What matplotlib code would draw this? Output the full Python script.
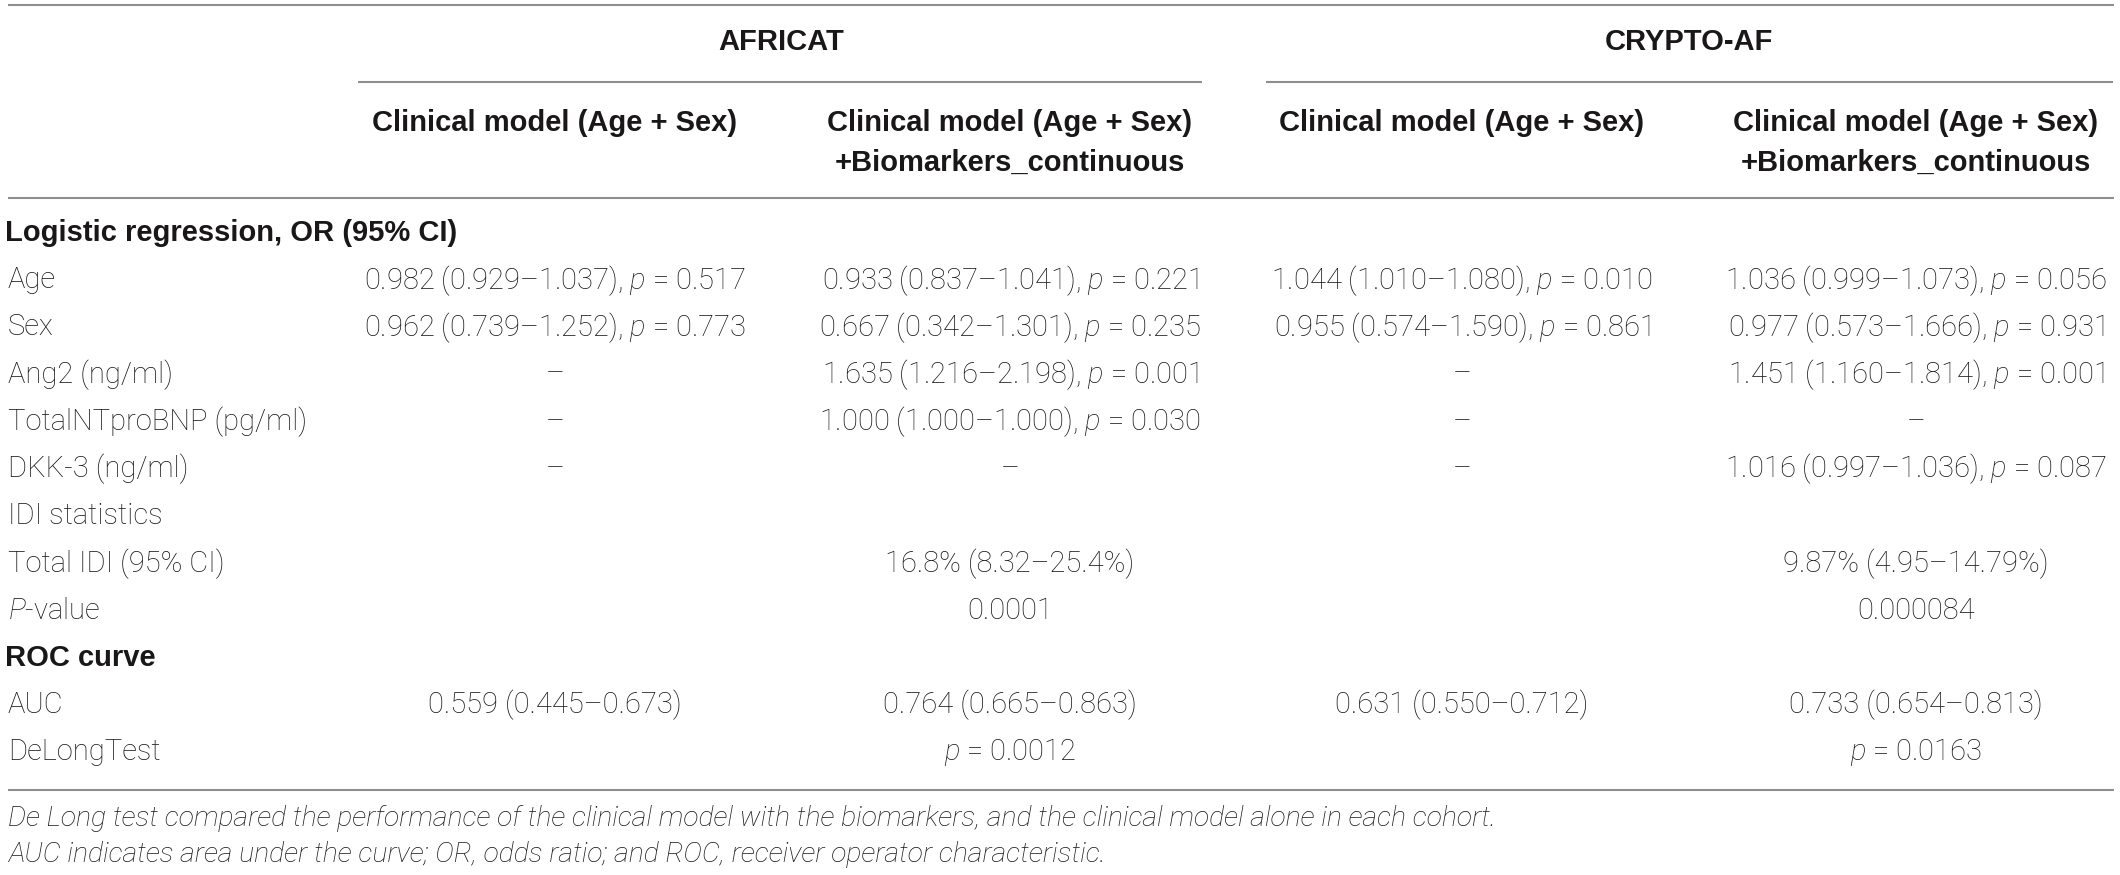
import matplotlib
matplotlib.use("Agg")
import matplotlib.pyplot as plt

plt.rcParams['font.family'] = ['Roboto', 'DejaVu Sans']
plt.rcParams['font.weight'] = 'light'
plt.rcParams['mathtext.fontset'] = 'custom'
plt.rcParams['mathtext.rm'] = 'Roboto:light'
plt.rcParams['mathtext.it'] = 'Roboto:italic:light'
plt.rcParams['mathtext.bf'] = 'Liberation Sans:bold'

# table content
cohorts = ["AFRICAT", "CRYPTO-AF"]
col_headers = ["Clinical model (Age + Sex)",
               "Clinical model (Age + Sex)\n+Biomarkers_continuous",
               "Clinical model (Age + Sex)",
               "Clinical model (Age + Sex)\n+Biomarkers_continuous"]

row_labels = ["Logistic regression, OR (95% CI)", "Age", "Sex", "Ang2 (ng/ml)",
              "TotalNTproBNP (pg/ml)", "DKK-3 (ng/ml)", "IDI statistics",
              "Total IDI (95% CI)", "$P$-value", "ROC curve", "AUC", "DeLongTest"]
bold_rows = ["Logistic regression, OR (95% CI)", "ROC curve"]

col1 = ["", "0.982 (0.929–1.037), $p$ = 0.517", "0.962 (0.739–1.252), $p$ = 0.773",
        "–", "–", "–", "", "", "", "", "0.559 (0.445–0.673)", ""]
col2 = ["", "0.933 (0.837–1.041), $p$ = 0.221", "0.667 (0.342–1.301), $p$ = 0.235",
        "1.635 (1.216–2.198), $p$ = 0.001", "1.000 (1.000–1.000), $p$ = 0.030", "–",
        "", "16.8% (8.32–25.4%)", "0.0001", "", "0.764 (0.665–0.863)", "$p$ = 0.0012"]
col3 = ["", "1.044 (1.010–1.080), $p$ = 0.010", "0.955 (0.574–1.590), $p$ = 0.861",
        "–", "–", "–", "", "", "", "", "0.631 (0.550–0.712)", ""]
col4 = ["", "1.036 (0.999–1.073), $p$ = 0.056", "0.977 (0.573–1.666), $p$ = 0.931",
        "1.451 (1.160–1.814), $p$ = 0.001", "–", "1.016 (0.997–1.036), $p$ = 0.087",
        "", "9.87% (4.95–14.79%)", "0.000084", "", "0.733 (0.654–0.813)", "$p$ = 0.0163"]

footnotes = ["De Long test compared the performance of the clinical model with the biomarkers, and the clinical model alone in each cohort.",
             "AUC indicates area under the curve; OR, odds ratio; and ROC, receiver operator characteristic."]

# layout (pixels)
W, H = 2120, 875
txt = '#1a1718'
rule = '#8f8f8f'
fs = 21
bold_font = ['Liberation Sans', 'DejaVu Sans']
col_x = [555, 1010, 1462, 1916]
cohort_x = [781, 1689]
cohort_lines = [(358, 1202), (1266, 2113)]
row_y0, row_dy = 233, 47.2

fig = plt.figure(figsize=(W / 100, H / 100), dpi=100)
ax = fig.add_axes([0, 0, 1, 1])
ax.set_xlim(0, W)
ax.set_ylim(H, 0)
ax.axis('off')

# rules
for y in [5, 198, 790]:
    ax.plot([8, 2114], [y, y], color=rule, lw=1.5, solid_capstyle='butt')
for (x0, x1) in cohort_lines:
    ax.plot([x0, x1], [82, 82], color=rule, lw=1.5, solid_capstyle='butt')

# headers
for name, x in zip(cohorts, cohort_x):
    ax.text(x, 42, name, ha='center', va='center', fontsize=fs, family=bold_font,
            fontweight='bold', color=txt)
for hdr, x in zip(col_headers, col_x):
    for k, line in enumerate(hdr.split("\n")):
        ax.text(x, 123 + 40 * k, line, ha='center', va='center', fontsize=fs,
                family=bold_font, fontweight='bold', color=txt)

# body
for i, lab in enumerate(row_labels):
    y = row_y0 + i * row_dy
    if lab in bold_rows:
        ax.text(5, y, lab, ha='left', va='center', fontsize=fs, family=bold_font,
                fontweight='bold', color=txt)
    else:
        ax.text(8, y, lab, ha='left', va='center', fontsize=fs, color=txt)
    for x, col in zip(col_x, [col1, col2, col3, col4]):
        if col[i]:
            ax.text(x, y, col[i], ha='center', va='center', fontsize=fs, color=txt)

for k, note in enumerate(footnotes):
    ax.text(8, 818 + 36 * k, note, ha='left', va='center', fontsize=20.4,
            style='italic', color=txt)

fig.savefig("out.png", dpi=100)
